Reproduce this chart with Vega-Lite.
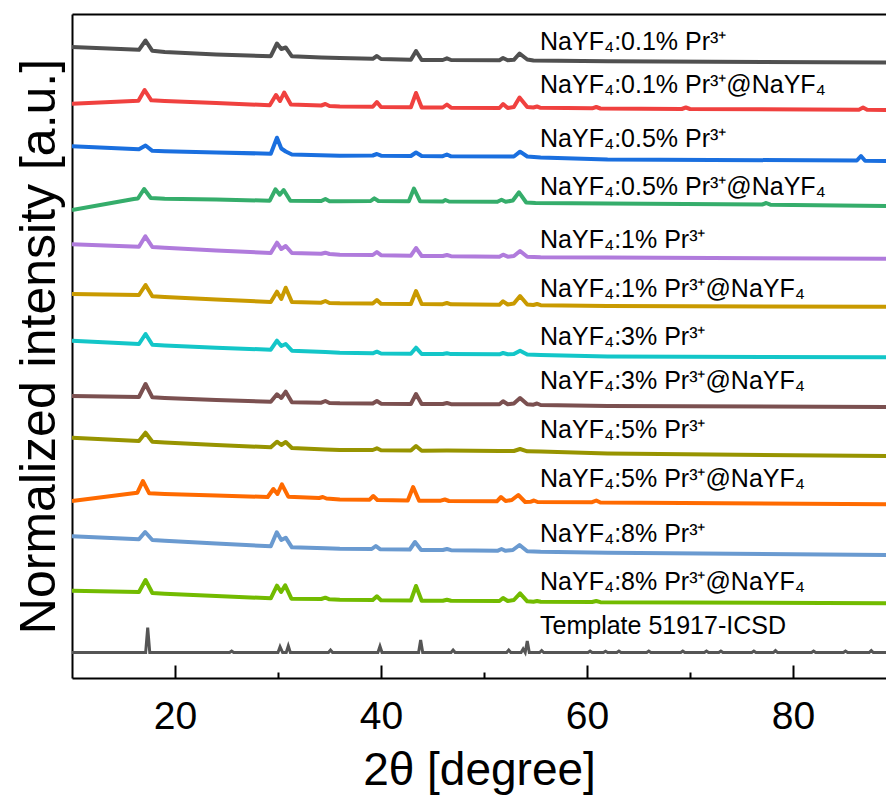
{
  "$schema": "https://vega.github.io/schema/vega-lite/v6.json",
  "width": 814,
  "height": 664,
  "autosize": {"type": "none"},
  "padding": {"left": 72, "top": 14, "right": 0, "bottom": 118},
  "background": "white",
  "config": {"view": {"stroke": null}, "font": "Liberation Sans"},
  "datasets": {
    "xrd": [
      {"s":"a","x":10,"y":631},{"s":"a","x":16.5,"y":628.2},{"s":"a","x":17.14,"y":637.5},{"s":"a","x":17.8,"y":627.2},{"s":"a","x":19,"y":626},{"s":"a","x":24,"y":623.5},{"s":"a","x":29.3,"y":621.8},{"s":"a","x":29.9,"y":634.5},{"s":"a","x":30.32,"y":629},{"s":"a","x":30.75,"y":630.5},{"s":"a","x":31.35,"y":621.7},{"s":"a","x":34.2,"y":620.5},{"s":"a","x":36,"y":620},{"s":"a","x":39.2,"y":619.2},{"s":"a","x":39.6,"y":622},{"s":"a","x":40,"y":619},{"s":"a","x":42.9,"y":618.3},{"s":"a","x":43.4,"y":627},{"s":"a","x":43.95,"y":618},{"s":"a","x":46,"y":618},{"s":"a","x":46.4,"y":619.7},{"s":"a","x":46.8,"y":618},{"s":"a","x":51.5,"y":617.8},{"s":"a","x":51.85,"y":620},{"s":"a","x":52.3,"y":617.8},{"s":"a","x":52.9,"y":618.2},{"s":"a","x":53.45,"y":624.5},{"s":"a","x":54.2,"y":618.5},{"s":"a","x":54.8,"y":617.5},{"s":"a","x":62,"y":616.7},{"s":"a","x":89.03,"y":615.5},
      {"s":"b","x":10,"y":574.3},{"s":"b","x":16.45,"y":577.3},{"s":"b","x":17.05,"y":588},{"s":"b","x":17.7,"y":577.7},{"s":"b","x":19,"y":577},{"s":"b","x":24,"y":575},{"s":"b","x":29.2,"y":572.8},{"s":"b","x":29.8,"y":583},{"s":"b","x":30.2,"y":577},{"s":"b","x":30.6,"y":585.5},{"s":"b","x":31.25,"y":573.5},{"s":"b","x":34.2,"y":572.5},{"s":"b","x":34.6,"y":574},{"s":"b","x":35,"y":572},{"s":"b","x":36,"y":571.5},{"s":"b","x":39.2,"y":571.2},{"s":"b","x":39.6,"y":576},{"s":"b","x":40,"y":571},{"s":"b","x":42.9,"y":570.7},{"s":"b","x":43.4,"y":585},{"s":"b","x":43.95,"y":570.5},{"s":"b","x":46,"y":570.5},{"s":"b","x":46.4,"y":573.5},{"s":"b","x":46.8,"y":570.3},{"s":"b","x":51.5,"y":570},{"s":"b","x":51.85,"y":574},{"s":"b","x":52.3,"y":570},{"s":"b","x":52.9,"y":571},{"s":"b","x":53.45,"y":580.5},{"s":"b","x":54.2,"y":571},{"s":"b","x":54.8,"y":570.5},{"s":"b","x":55.15,"y":571.5},{"s":"b","x":55.5,"y":570.2},{"s":"b","x":60.5,"y":569.7},{"s":"b","x":60.9,"y":571},{"s":"b","x":61.3,"y":569.5},{"s":"b","x":69.2,"y":569},{"s":"b","x":69.6,"y":570.5},{"s":"b","x":70,"y":569},{"s":"b","x":86.4,"y":568.3},{"s":"b","x":86.8,"y":570.5},{"s":"b","x":87.2,"y":568.2},{"s":"b","x":89.03,"y":568},
      {"s":"c","x":10,"y":531.7},{"s":"c","x":16.5,"y":528.8},{"s":"c","x":17.14,"y":532.5},{"s":"c","x":17.8,"y":527.2},{"s":"c","x":19,"y":526.7},{"s":"c","x":24,"y":525.5},{"s":"c","x":29.3,"y":524.3},{"s":"c","x":29.9,"y":540.3},{"s":"c","x":30.32,"y":529.5},{"s":"c","x":30.75,"y":526.5},{"s":"c","x":31.35,"y":523.5},{"s":"c","x":36,"y":522.3},{"s":"c","x":39.2,"y":522.5},{"s":"c","x":39.6,"y":524},{"s":"c","x":40,"y":522.3},{"s":"c","x":42.9,"y":522},{"s":"c","x":43.4,"y":525.5},{"s":"c","x":43.95,"y":522},{"s":"c","x":46,"y":521.8},{"s":"c","x":46.4,"y":523.5},{"s":"c","x":46.8,"y":521.7},{"s":"c","x":52.9,"y":521.5},{"s":"c","x":53.5,"y":526.3},{"s":"c","x":54.2,"y":521.5},{"s":"c","x":55.5,"y":520.5},{"s":"c","x":62,"y":518.5},{"s":"c","x":86.2,"y":517.5},{"s":"c","x":86.6,"y":522},{"s":"c","x":87,"y":517.3},{"s":"c","x":89.03,"y":517},
      {"s":"d","x":10,"y":468},{"s":"d","x":16,"y":479},{"s":"d","x":16.4,"y":479.5},{"s":"d","x":17,"y":489},{"s":"d","x":17.65,"y":480},{"s":"d","x":19,"y":479.3},{"s":"d","x":24,"y":478.5},{"s":"d","x":29.2,"y":477.3},{"s":"d","x":29.75,"y":488.7},{"s":"d","x":30.17,"y":483.3},{"s":"d","x":30.55,"y":488},{"s":"d","x":31.2,"y":477.3},{"s":"d","x":34.2,"y":477},{"s":"d","x":34.6,"y":479},{"s":"d","x":35,"y":476.8},{"s":"d","x":36,"y":476.7},{"s":"d","x":39,"y":477},{"s":"d","x":39.35,"y":479.7},{"s":"d","x":39.75,"y":477},{"s":"d","x":42.7,"y":476.7},{"s":"d","x":43.2,"y":489.5},{"s":"d","x":43.8,"y":476.7},{"s":"d","x":46,"y":476.6},{"s":"d","x":46.25,"y":478},{"s":"d","x":46.6,"y":476.5},{"s":"d","x":51.3,"y":476.3},{"s":"d","x":51.7,"y":478.3},{"s":"d","x":52.1,"y":476.2},{"s":"d","x":52.8,"y":477.5},{"s":"d","x":53.4,"y":485.7},{"s":"d","x":54.1,"y":475.5},{"s":"d","x":55,"y":475},{"s":"d","x":62,"y":474.5},{"s":"d","x":77,"y":473.5},{"s":"d","x":77.4,"y":475},{"s":"d","x":77.8,"y":473.3},{"s":"d","x":89.03,"y":472},
      {"s":"e","x":10,"y":433.7},{"s":"e","x":16.5,"y":431.3},{"s":"e","x":17.12,"y":441.7},{"s":"e","x":17.8,"y":431},{"s":"e","x":19,"y":430.2},{"s":"e","x":24,"y":427.5},{"s":"e","x":29.3,"y":425},{"s":"e","x":29.9,"y":435.3},{"s":"e","x":30.32,"y":429},{"s":"e","x":30.75,"y":432},{"s":"e","x":31.35,"y":425},{"s":"e","x":34.2,"y":424.2},{"s":"e","x":34.6,"y":425.3},{"s":"e","x":35,"y":424},{"s":"e","x":36,"y":423.3},{"s":"e","x":39.2,"y":423},{"s":"e","x":39.6,"y":426},{"s":"e","x":40,"y":422.8},{"s":"e","x":42.9,"y":422.3},{"s":"e","x":43.4,"y":430},{"s":"e","x":43.95,"y":422},{"s":"e","x":46,"y":422},{"s":"e","x":46.4,"y":423},{"s":"e","x":46.8,"y":421.8},{"s":"e","x":51.5,"y":421.3},{"s":"e","x":51.85,"y":423.3},{"s":"e","x":52.3,"y":421.3},{"s":"e","x":52.9,"y":422},{"s":"e","x":53.5,"y":427},{"s":"e","x":54.2,"y":421.3},{"s":"e","x":55.5,"y":420.8},{"s":"e","x":62,"y":420.5},{"s":"e","x":89.03,"y":419.3},
      {"s":"f","x":10,"y":384},{"s":"f","x":16.5,"y":383},{"s":"f","x":17.14,"y":393},{"s":"f","x":17.8,"y":381.7},{"s":"f","x":19,"y":381},{"s":"f","x":24,"y":378.5},{"s":"f","x":29.3,"y":376},{"s":"f","x":29.9,"y":386.3},{"s":"f","x":30.32,"y":379},{"s":"f","x":30.75,"y":390.3},{"s":"f","x":31.35,"y":376},{"s":"f","x":34.2,"y":375.3},{"s":"f","x":34.6,"y":377},{"s":"f","x":35,"y":375},{"s":"f","x":36,"y":374.7},{"s":"f","x":39.2,"y":374.5},{"s":"f","x":39.6,"y":378},{"s":"f","x":40,"y":374.3},{"s":"f","x":42.9,"y":374},{"s":"f","x":43.4,"y":387},{"s":"f","x":43.95,"y":374},{"s":"f","x":46,"y":373.8},{"s":"f","x":46.4,"y":375},{"s":"f","x":46.8,"y":373.7},{"s":"f","x":51.5,"y":373.3},{"s":"f","x":51.85,"y":376.7},{"s":"f","x":52.3,"y":373.5},{"s":"f","x":52.9,"y":374.5},{"s":"f","x":53.5,"y":382},{"s":"f","x":54.2,"y":373.5},{"s":"f","x":54.8,"y":373},{"s":"f","x":55.15,"y":374},{"s":"f","x":55.5,"y":372.8},{"s":"f","x":62,"y":372},{"s":"f","x":89.03,"y":371.3},
      {"s":"g","x":10,"y":337.3},{"s":"g","x":16.5,"y":334},{"s":"g","x":17.14,"y":344},{"s":"g","x":17.8,"y":333.3},{"s":"g","x":19,"y":332.5},{"s":"g","x":24,"y":330.3},{"s":"g","x":29.3,"y":328.3},{"s":"g","x":29.9,"y":337.3},{"s":"g","x":30.32,"y":332},{"s":"g","x":30.75,"y":334},{"s":"g","x":31.35,"y":327.3},{"s":"g","x":34.6,"y":326},{"s":"g","x":36,"y":325.3},{"s":"g","x":39.2,"y":324.7},{"s":"g","x":39.6,"y":326.3},{"s":"g","x":40,"y":324.5},{"s":"g","x":42.9,"y":324.2},{"s":"g","x":43.4,"y":330.3},{"s":"g","x":43.95,"y":324},{"s":"g","x":46,"y":324},{"s":"g","x":46.4,"y":324.8},{"s":"g","x":46.8,"y":323.9},{"s":"g","x":51.5,"y":323.7},{"s":"g","x":51.85,"y":325},{"s":"g","x":52.3,"y":323.7},{"s":"g","x":52.9,"y":324},{"s":"g","x":53.5,"y":327.3},{"s":"g","x":54.2,"y":323.5},{"s":"g","x":55.5,"y":323},{"s":"g","x":62,"y":321.5},{"s":"g","x":89.03,"y":320.7},
      {"s":"h","x":10,"y":282},{"s":"h","x":16.5,"y":281},{"s":"h","x":17.14,"y":294},{"s":"h","x":17.8,"y":280.7},{"s":"h","x":19,"y":280},{"s":"h","x":24,"y":278},{"s":"h","x":29.3,"y":276.3},{"s":"h","x":29.9,"y":283.7},{"s":"h","x":30.32,"y":280},{"s":"h","x":30.75,"y":286.3},{"s":"h","x":31.35,"y":275.7},{"s":"h","x":34.2,"y":275.3},{"s":"h","x":34.6,"y":277},{"s":"h","x":35,"y":275},{"s":"h","x":36,"y":274.7},{"s":"h","x":39.2,"y":274.5},{"s":"h","x":39.6,"y":277},{"s":"h","x":40,"y":274.3},{"s":"h","x":42.9,"y":274},{"s":"h","x":43.4,"y":284},{"s":"h","x":43.95,"y":274},{"s":"h","x":46,"y":274},{"s":"h","x":46.4,"y":275},{"s":"h","x":46.8,"y":273.8},{"s":"h","x":51.5,"y":273.7},{"s":"h","x":51.85,"y":276.7},{"s":"h","x":52.3,"y":273.7},{"s":"h","x":52.9,"y":274.5},{"s":"h","x":53.5,"y":280},{"s":"h","x":54.2,"y":273.7},{"s":"h","x":54.8,"y":273.3},{"s":"h","x":55.15,"y":274.5},{"s":"h","x":55.5,"y":273},{"s":"h","x":62,"y":272},{"s":"h","x":89.03,"y":271},
      {"s":"i","x":10,"y":240.3},{"s":"i","x":16.5,"y":237},{"s":"i","x":17.14,"y":245.3},{"s":"i","x":17.8,"y":236.3},{"s":"i","x":19,"y":235.5},{"s":"i","x":24,"y":233},{"s":"i","x":29.3,"y":230.7},{"s":"i","x":29.9,"y":236.3},{"s":"i","x":30.32,"y":233},{"s":"i","x":30.75,"y":236},{"s":"i","x":31.35,"y":230},{"s":"i","x":34.6,"y":228.5},{"s":"i","x":36,"y":228},{"s":"i","x":39.2,"y":228},{"s":"i","x":39.6,"y":229.7},{"s":"i","x":40,"y":227.7},{"s":"i","x":42.9,"y":227.5},{"s":"i","x":43.4,"y":232},{"s":"i","x":43.95,"y":227.3},{"s":"i","x":46.4,"y":227.5},{"s":"i","x":51.5,"y":227},{"s":"i","x":52.9,"y":227},{"s":"i","x":53.5,"y":229},{"s":"i","x":54.2,"y":226.7},{"s":"i","x":55.5,"y":226.5},{"s":"i","x":62,"y":224.5},{"s":"i","x":89.03,"y":222},
      {"s":"j","x":10,"y":177},{"s":"j","x":15.95,"y":184.7},{"s":"j","x":16.35,"y":185.3},{"s":"j","x":16.88,"y":197},{"s":"j","x":17.5,"y":184.7},{"s":"j","x":19,"y":184},{"s":"j","x":24,"y":182.5},{"s":"j","x":29,"y":181},{"s":"j","x":29.55,"y":189},{"s":"j","x":29.95,"y":184},{"s":"j","x":30.38,"y":193.7},{"s":"j","x":31,"y":181.3},{"s":"j","x":34,"y":180},{"s":"j","x":34.35,"y":181},{"s":"j","x":34.7,"y":179.5},{"s":"j","x":36,"y":178.5},{"s":"j","x":38.9,"y":178.3},{"s":"j","x":39.25,"y":182},{"s":"j","x":39.65,"y":178},{"s":"j","x":42.6,"y":177.5},{"s":"j","x":43.12,"y":191},{"s":"j","x":43.7,"y":177.3},{"s":"j","x":45.8,"y":177.3},{"s":"j","x":46.2,"y":178.5},{"s":"j","x":46.6,"y":177},{"s":"j","x":51.25,"y":176.7},{"s":"j","x":51.65,"y":181},{"s":"j","x":52.1,"y":177},{"s":"j","x":52.7,"y":178},{"s":"j","x":53.33,"y":183},{"s":"j","x":54,"y":176},{"s":"j","x":54.5,"y":176.2},{"s":"j","x":54.85,"y":177.5},{"s":"j","x":55.2,"y":176},{"s":"j","x":60.5,"y":175.8},{"s":"j","x":60.9,"y":177.5},{"s":"j","x":61.3,"y":175.5},{"s":"j","x":89.03,"y":173.7},
      {"s":"k","x":10,"y":141.7},{"s":"k","x":16.5,"y":138.7},{"s":"k","x":17.1,"y":146},{"s":"k","x":17.8,"y":138},{"s":"k","x":19,"y":137.2},{"s":"k","x":24,"y":134.5},{"s":"k","x":29.3,"y":131.7},{"s":"k","x":29.88,"y":145.7},{"s":"k","x":30.32,"y":138},{"s":"k","x":30.75,"y":140.3},{"s":"k","x":31.35,"y":130.7},{"s":"k","x":34.6,"y":129.7},{"s":"k","x":36,"y":129.2},{"s":"k","x":39.1,"y":129},{"s":"k","x":39.5,"y":132},{"s":"k","x":39.9,"y":128.8},{"s":"k","x":42.8,"y":128.5},{"s":"k","x":43.3,"y":136},{"s":"k","x":43.9,"y":128},{"s":"k","x":46,"y":128},{"s":"k","x":46.4,"y":129},{"s":"k","x":46.8,"y":127.8},{"s":"k","x":51.3,"y":127.2},{"s":"k","x":51.7,"y":129},{"s":"k","x":52.1,"y":127.2},{"s":"k","x":52.8,"y":128},{"s":"k","x":53.45,"y":133},{"s":"k","x":54.2,"y":126.7},{"s":"k","x":55.5,"y":126.2},{"s":"k","x":62,"y":125.2},{"s":"k","x":89.03,"y":123},
      {"s":"l","x":10,"y":87.3},{"s":"l","x":16.5,"y":86},{"s":"l","x":17.14,"y":98},{"s":"l","x":17.8,"y":85},{"s":"l","x":19,"y":84.2},{"s":"l","x":24,"y":82},{"s":"l","x":29.3,"y":79.7},{"s":"l","x":29.9,"y":92.3},{"s":"l","x":30.3,"y":86},{"s":"l","x":30.7,"y":92.7},{"s":"l","x":31.3,"y":79.3},{"s":"l","x":34.2,"y":79},{"s":"l","x":34.6,"y":80.3},{"s":"l","x":35,"y":78.7},{"s":"l","x":36,"y":78.3},{"s":"l","x":39.2,"y":78},{"s":"l","x":39.6,"y":81.7},{"s":"l","x":40,"y":77.8},{"s":"l","x":42.9,"y":77.5},{"s":"l","x":43.4,"y":92},{"s":"l","x":43.95,"y":77.3},{"s":"l","x":46,"y":77.2},{"s":"l","x":46.4,"y":78.3},{"s":"l","x":46.8,"y":77.2},{"s":"l","x":51.5,"y":77},{"s":"l","x":51.85,"y":80},{"s":"l","x":52.3,"y":77},{"s":"l","x":52.9,"y":78},{"s":"l","x":53.5,"y":84.7},{"s":"l","x":54.2,"y":76.7},{"s":"l","x":54.8,"y":76.3},{"s":"l","x":55.15,"y":77},{"s":"l","x":55.5,"y":76.2},{"s":"l","x":60.5,"y":76},{"s":"l","x":60.9,"y":77},{"s":"l","x":61.3,"y":75.8},{"s":"l","x":89.03,"y":74.7}
    ],
    "tpl": [
      {"x":10,"y":25.5},{"x":17.15,"y":25.5},{"x":17.35,"y":50.5},{"x":17.55,"y":25.5},{"x":25.3,"y":25.5},{"x":25.5,"y":27},{"x":25.7,"y":25.5},{"x":30,"y":25.5},{"x":30.2,"y":31.3},{"x":30.45,"y":25.5},{"x":30.8,"y":25.5},{"x":31,"y":32},{"x":31.2,"y":25.5},{"x":34.9,"y":25.5},{"x":35.1,"y":28},{"x":35.3,"y":25.5},{"x":39.7,"y":25.5},{"x":39.9,"y":31.7},{"x":40.1,"y":25.5},{"x":43.65,"y":25.5},{"x":43.85,"y":38},{"x":44.05,"y":25.5},{"x":46.8,"y":25.5},{"x":47,"y":28},{"x":47.2,"y":25.5},{"x":52.2,"y":25.5},{"x":52.4,"y":28},{"x":52.6,"y":25.5},{"x":53.6,"y":25.5},{"x":53.8,"y":29},{"x":54,"y":25.5},{"x":54.2,"y":37},{"x":54.4,"y":25.5},{"x":55.4,"y":25.5},{"x":55.6,"y":27.5},{"x":55.8,"y":25.5},{"x":60.1,"y":25.5},{"x":60.3,"y":27},{"x":60.5,"y":25.5},{"x":61.6,"y":25.5},{"x":61.8,"y":26.8},{"x":62,"y":25.5},{"x":62.9,"y":25.5},{"x":63.1,"y":27},{"x":63.3,"y":25.5},{"x":65.8,"y":25.5},{"x":66,"y":27},{"x":66.2,"y":25.5},{"x":69.1,"y":25.5},{"x":69.3,"y":27},{"x":69.5,"y":25.5},{"x":71.4,"y":25.5},{"x":71.6,"y":27},{"x":71.8,"y":25.5},{"x":72.8,"y":25.5},{"x":73,"y":27},{"x":73.2,"y":25.5},{"x":76,"y":25.5},{"x":76.2,"y":27},{"x":76.4,"y":25.5},{"x":78.1,"y":25.5},{"x":78.3,"y":27.5},{"x":78.5,"y":25.5},{"x":81.8,"y":25.5},{"x":82,"y":27},{"x":82.2,"y":25.5},{"x":84.9,"y":25.5},{"x":85.1,"y":27},{"x":85.3,"y":25.5},{"x":87.4,"y":25.5},{"x":87.6,"y":27.5},{"x":87.8,"y":25.5},{"x":89.03,"y":25.5}
    ],
    "lab": [
      {"t":"NaYF₄:0.1% Pr³⁺","x":55.44,"y":628},
      {"t":"NaYF₄:0.1% Pr³⁺@NaYF₄","x":55.44,"y":584.7},
      {"t":"NaYF₄:0.5% Pr³⁺","x":55.44,"y":531.3},
      {"t":"NaYF₄:0.5% Pr³⁺@NaYF₄","x":55.44,"y":483.3},
      {"t":"NaYF₄:1% Pr³⁺","x":55.44,"y":429.7},
      {"t":"NaYF₄:1% Pr³⁺@NaYF₄","x":55.44,"y":381.3},
      {"t":"NaYF₄:3% Pr³⁺","x":55.44,"y":333},
      {"t":"NaYF₄:3% Pr³⁺@NaYF₄","x":55.44,"y":288.7},
      {"t":"NaYF₄:5% Pr³⁺","x":55.44,"y":239.7},
      {"t":"NaYF₄:5% Pr³⁺@NaYF₄","x":55.44,"y":191.3},
      {"t":"NaYF₄:8% Pr³⁺","x":55.44,"y":136.3},
      {"t":"NaYF₄:8% Pr³⁺@NaYF₄","x":55.44,"y":88},
      {"t":"Template 51917-ICSD","x":55.44,"y":44}
    ]
  },
  "layer": [
    {
      "data": {"name": "xrd"},
      "mark": {"type": "line", "strokeWidth": 4, "strokeJoin": "round", "clip": true},
      "encoding": {
        "x": {"field": "x", "type": "quantitative", "scale": {"domain": [10, 89.03], "nice": false, "zero": false},
          "axis": {"orient": "bottom", "values": [20, 40, 60, 80], "grid": false, "tickSize": -13, "tickWidth": 2, "tickColor": "black", "domainColor": "black", "domainWidth": 2, "labelFontSize": 39, "labelColor": "black", "labelPadding": 32, "labelFont": "Liberation Sans", "title": "2θ [degree]", "titleFontSize": 46, "titleFontWeight": "normal", "titleColor": "black", "titleFont": "Liberation Sans", "titlePadding": 12}},
        "y": {"field": "y", "type": "quantitative", "scale": {"domain": [0, 664], "nice": false, "zero": false},
          "axis": {"orient": "left", "ticks": false, "labels": false, "grid": false, "domainColor": "black", "domainWidth": 2, "title": "Normalized intensity [a.u.]", "titleFontSize": 50, "titleFontWeight": "normal", "titleColor": "black", "titleFont": "Liberation Sans", "titlePadding": 8}},
        "color": {"field": "s", "type": "nominal", "legend": null,
          "scale": {"domain": ["a","b","c","d","e","f","g","h","i","j","k","l"],
                    "range": ["#505050","#f0413f","#1a6fdf","#35ad6b","#b07bdc","#c99a00","#13c6c8","#7b5050","#979400","#ff6a00","#6a9ad0","#72bb00"]}}
      }
    },
    {
      "data": {"name": "tpl"},
      "mark": {"type": "line", "strokeWidth": 3, "color": "#555555", "clip": true},
      "encoding": {
        "x": {"field": "x", "type": "quantitative",
          "axis": {"orient": "bottom", "values": [30, 50, 70], "grid": false, "tickSize": -6, "tickWidth": 2, "tickColor": "black", "labels": false, "domain": false, "title": null}},
        "y": {"field": "y", "type": "quantitative", "axis": null}
      }
    },
    {
      "data": {"name": "lab"},
      "mark": {"type": "text", "align": "left", "baseline": "alphabetic", "fontSize": 25, "font": "Liberation Sans", "color": "black"},
      "encoding": {
        "x": {"field": "x", "type": "quantitative",
          "axis": {"orient": "top", "ticks": false, "labels": false, "grid": false, "domainColor": "black", "domainWidth": 2, "title": null}},
        "y": {"field": "y", "type": "quantitative", "axis": null},
        "text": {"field": "t"}
      }
    }
  ],
  "resolve": {"axis": {"x": "independent", "y": "independent"}}
}
